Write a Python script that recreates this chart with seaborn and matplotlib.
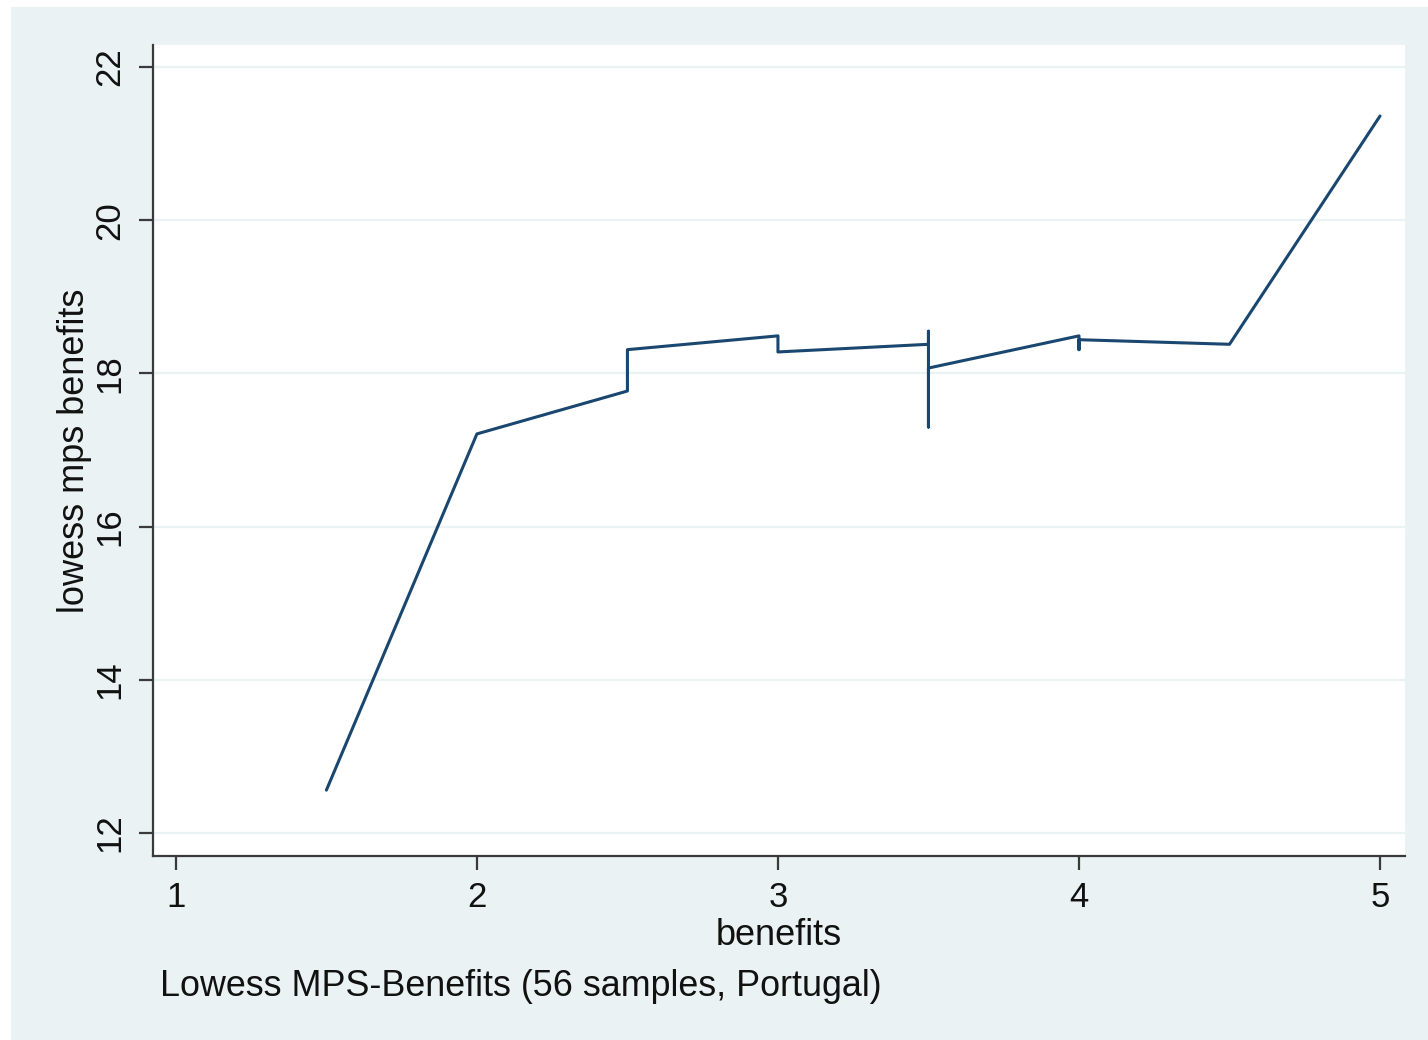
import matplotlib
matplotlib.use("Agg")
import matplotlib.pyplot as plt
from matplotlib.patches import Rectangle
import seaborn as sns

# Lowess-smoothed MPS against benefits (observations sorted by benefits;
# tied benefit values give several smoothed values at the same x)
benefits = [1.5, 2.0, 2.5, 2.5, 3.0, 3.0, 3.5, 3.5, 3.5, 3.5, 4.0, 4.0, 4.0, 4.5, 5.0]
lowess_mps = [12.56, 17.21, 17.77, 18.31, 18.49, 18.28, 18.38, 18.55, 17.30, 18.07,
              18.49, 18.31, 18.44, 18.38, 21.36]

x_ticks = [1, 2, 3, 4, 5]
y_ticks = [12, 14, 16, 18, 20, 22]

BG = "#eaf2f3"
NAVY = "#1a476f"
AXIS = "#3a3a3a"
TEXT = "#111111"

sns.set_theme(style="white")
plt.rcParams["font.family"] = ["Liberation Sans", "DejaVu Sans"]

fig = plt.figure(figsize=(14.28, 10.40), dpi=100, facecolor="white")
fig.patches.append(Rectangle((11 / 1428, 0), 1, (1040 - 7) / 1040,
                             transform=fig.transFigure, facecolor=BG,
                             edgecolor="none", zorder=-10))

ax = fig.add_axes([153 / 1428, (1040 - 856) / 1040,
                   (1405 - 153) / 1428, (856 - 45) / 1040])
ax.set_facecolor("white")

sns.lineplot(x=benefits, y=lowess_mps, sort=False, estimator=None,
             color=NAVY, linewidth=2.2, ax=ax)

ax.set_xlim(0.924, 5.083)
ax.set_ylim(11.70, 22.287)
ax.set_xticks(x_ticks)
ax.set_yticks(y_ticks)
ax.set_xticklabels([str(t) for t in x_ticks])
ax.set_yticklabels([str(t) for t in y_ticks])

ax.yaxis.grid(True, color=BG, linewidth=1.6)
ax.xaxis.grid(False)
ax.set_axisbelow(True)

for side in ("top", "right"):
    ax.spines[side].set_visible(False)
for side in ("left", "bottom"):
    ax.spines[side].set_color(AXIS)
    ax.spines[side].set_linewidth(1.6)

ax.tick_params(axis="both", which="major", direction="out", length=10,
               width=1.6, color=AXIS, labelsize=25, labelcolor=TEXT,
               left=True, bottom=True)
ax.tick_params(axis="x", pad=8)
ax.tick_params(axis="y", pad=9)
for lab in ax.get_yticklabels():
    lab.set_rotation(90)
    lab.set_va("center")

ax.set_xlabel("benefits", fontsize=26, color=TEXT, labelpad=3)
ax.set_ylabel("lowess mps benefits", fontsize=26, color=TEXT, labelpad=1)

fig.text(160 / 1428, 1 - 987 / 1040, "Lowess MPS-Benefits (56 samples, Portugal)",
         fontsize=25.8, color=TEXT, ha="left", va="center")

fig.savefig("out.png", dpi=100, facecolor=fig.get_facecolor())
